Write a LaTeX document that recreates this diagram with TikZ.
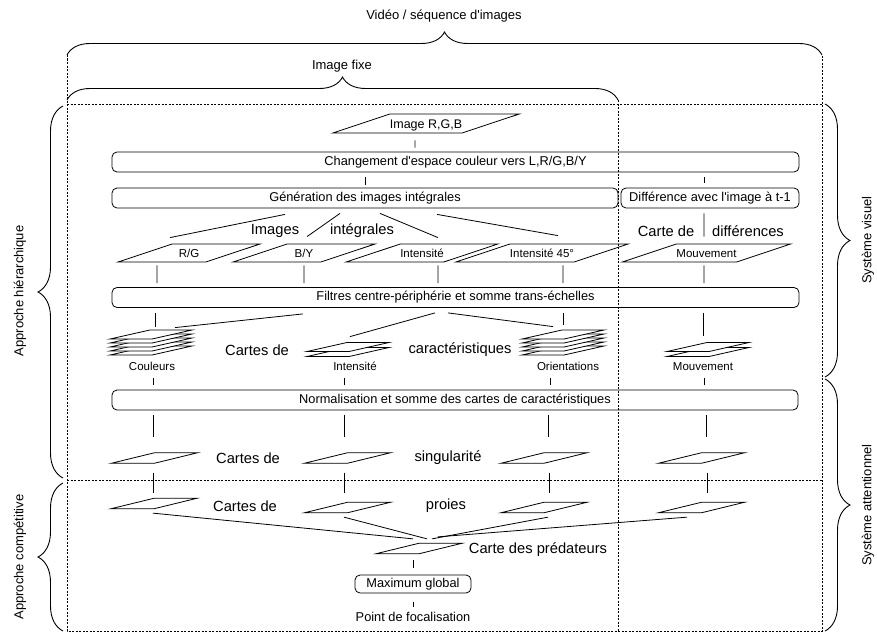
\documentclass[tikz,border=0pt]{standalone}
\usepackage{fontspec}
\setmainfont{Liberation Sans}
\usetikzlibrary{shapes.geometric,decorations.pathreplacing}
\begin{document}
\begin{tikzpicture}[x=1pt,y=-1pt,
boite/.style={draw, line width=0.8pt, rounded corners=5pt, minimum height=20pt, inner sep=0pt, font=\fontsize{12.8}{14}\selectfont},
carte/.style={draw, line width=0.8pt, trapezium, trapezium left angle=18.4, trapezium right angle=161.6, trapezium stretches body, text height=13.5pt, text depth=4.5pt, inner sep=0pt, font=\fontsize{11.5}{13}\selectfont},
vide/.style={draw, line width=0.8pt, trapezium, trapezium left angle=13.7, trapezium right angle=166.3, trapezium stretches body, text height=10.5pt, text depth=0pt, minimum width=83pt, inner sep=0pt},
feuille/.style={draw, line width=0.8pt, fill=white, trapezium, trapezium left angle=12.7, trapezium right angle=167.3, trapezium stretches body, text height=9pt, text depth=0pt, minimum width=82pt, inner sep=0pt},
petit/.style={inner sep=0pt, text height=8pt, text depth=2.5pt, font=\fontsize{11.5}{13}\selectfont},
grand/.style={inner sep=0pt, font=\fontsize{14.7}{16}\selectfont},
cote/.style={inner sep=0pt, font=\fontsize{13}{15}\selectfont},
lien/.style={line width=0.8pt},
pointille/.style={line width=1pt, dash pattern=on 2pt off 1.5pt},
accolade/.style={line width=0.9pt, decorate, decoration={brace, amplitude=#1}}]
\useasboundingbox (0,0) rectangle (877,634);
\draw[pointille] (67,55) -- (67,631) -- (822,631) -- (822,55);
\draw[pointille] (67,104) -- (822,104);
\draw[pointille] (618,100) -- (618,631);
\draw[pointille] (67,480) -- (822,480);
\draw[accolade=23pt] (67,55) -- (822,55);
\draw[accolade=23pt] (67,100) -- (618,100);
\draw[accolade=25pt] (63,478) -- (63,106);
\draw[accolade=25pt] (63,631) -- (63,483);
\draw[accolade=25pt] (825,104) -- (825,377);
\draw[accolade=25pt] (825,379) -- (825,631);
\node[cote] (video) at (444,16) {Vidéo / séquence d\textquotesingle images};
\node[cote] (fixe) at (342,66) {Image fixe};
\node[cote, rotate=90] (hier) at (20,291) {Approche hiérarchique};
\node[cote, rotate=90] (comp) at (20,557) {Approche compétitive};
\node[cote, rotate=90] (visu) at (868,240) {Système visuel};
\node[cote, rotate=90] (atte) at (868,505) {Système attentionnel};
\node[carte, minimum width=153pt, text height=14pt, text depth=5pt, font=\fontsize{12.5}{14}\selectfont] (rgb) at (426,123.5) {Image R,G,B};
\node[boite, minimum width=687pt] (chg) at (455.5,162) {Changement d\textquotesingle espace couleur vers L,R/G,B/Y};
\draw[lien] ([xshift=-11pt,yshift=-7pt]rgb.south) -- ([xshift=-40.5pt,yshift=4pt]chg.north);
\node[boite, minimum width=506pt] (gen) at (365,198) {Génération des images intégrales};
\node[boite, minimum width=178pt] (diff) at (710,198) {Différence avec l\textquotesingle image à t-1};
\draw[lien] ([xshift=-90.5pt,yshift=-5pt]chg.south) -- ([yshift=3pt]gen.north);
\draw[lien] ([xshift=248.5pt,yshift=-5pt]chg.south) -- ([xshift=-6pt,yshift=5pt]diff.north);
\node[grand] (t1) at (275,231) {Images};
\node[grand] (t2) at (362,231) {intégrales};
\node[grand] (t3) at (666,231) {Carte de};
\node[grand] (t4) at (748,231) {différences};
\node[carte, minimum width=142pt] (rg) at (189,253) {R/G};
\node[carte, minimum width=142pt] (by) at (304,253) {B/Y};
\node[carte, minimum width=142pt] (int) at (422,253) {Intensité};
\node[carte, minimum width=150pt] (intq) at (542,253) {Intensité 45°};
\node[carte, minimum width=165pt] (mvt) at (706.5,253) {Mouvement};
\draw[lien] ([xshift=-80pt,yshift=-6pt]gen.south) -- ([xshift=-19pt,yshift=6pt]rg.north);
\draw[lien] ([xshift=-25pt,yshift=-5pt]gen.south) -- ([xshift=3pt,yshift=7pt]by.north);
\draw[lien] ([xshift=15pt,yshift=-5pt]gen.south) -- ([xshift=16pt,yshift=6pt]int.north);
\draw[lien] ([xshift=72pt,yshift=-6pt]gen.south) -- ([xshift=16pt,yshift=8pt]intq.north);
\draw[lien] ([xshift=-6pt,yshift=-5pt]diff.south) -- ([xshift=-2.5pt,yshift=7pt]mvt.north);
\node[boite, minimum width=687pt] (filt) at (455.5,297.5) {Filtres centre-périphérie et somme trans-échelles};
\draw[lien] ([xshift=-32pt,yshift=-3pt]rg.south) -- ([xshift=-298.5pt,yshift=4pt]filt.north);
\draw[lien] ([yshift=-3pt]by.south) -- ([xshift=-151.5pt,yshift=4pt]filt.north);
\draw[lien] ([xshift=16pt,yshift=-3pt]int.south) -- ([xshift=-17.5pt,yshift=4pt]filt.north);
\draw[lien] ([xshift=21pt,yshift=-3pt]intq.south) -- ([xshift=107.5pt,yshift=4pt]filt.north);
\draw[lien] ([xshift=-2.5pt,yshift=-3pt]mvt.south) -- ([xshift=248.5pt,yshift=4pt]filt.north);
\foreach \k in {0,...,4} \node[feuille] (coul\k) at (151,350.5-4*\k) {};
\foreach \k in {0,1} \node[feuille] (inte\k) at (348,352-5*\k) {};
\foreach \k in {0,...,4} \node[feuille] (orie\k) at (563,350.5-4*\k) {};
\foreach \k in {0,1} \node[feuille] (mvts\k) at (708,352-5*\k) {};
\draw[lien] ([xshift=-300.5pt,yshift=-5pt]filt.south) -- ([xshift=4pt,yshift=3pt]coul4.north);
\draw[lien] ([xshift=-152.5pt,yshift=-6pt]filt.south) -- ([xshift=24pt,yshift=2pt]coul4.north);
\draw[lien] ([xshift=-20.5pt,yshift=-5pt]filt.south) -- ([xshift=2pt,yshift=5.5pt]inte1.north);
\draw[lien] ([xshift=-7.5pt,yshift=-5pt]filt.south) -- ([xshift=-10pt,yshift=3pt]orie4.north);
\draw[lien] ([xshift=107.5pt,yshift=-5pt]filt.south) -- ([yshift=5pt]orie4.north);
\draw[lien] ([xshift=247.5pt,yshift=-5pt]filt.south) -- ([xshift=-5pt,yshift=6.5pt]mvts1.north);
\node[grand] (t5) at (257,350) {Cartes de};
\node[grand] (t6) at (460,350) {caractéristiques};
\node[petit] (lcoul) at (152,368) {Couleurs};
\node[petit] (lint) at (355,368) {Intensité};
\node[petit] (lori) at (568,368) {Orientations};
\node[petit] (lmvt) at (703,368) {Mouvement};
\node[boite, minimum width=686pt] (norm) at (455,400) {Normalisation et somme des cartes de caractéristiques};
\draw[lien] ([xshift=1pt,yshift=-5pt]lcoul.south) -- ([xshift=-302pt,yshift=5pt]norm.north);
\draw[lien] ([xshift=-11pt,yshift=-5pt]lint.south) -- ([xshift=-111pt,yshift=5pt]norm.north);
\draw[lien] ([xshift=-18pt,yshift=-5pt]lori.south) -- ([xshift=95pt,yshift=5pt]norm.north);
\draw[lien] ([xshift=1pt,yshift=-5pt]lmvt.south) -- ([xshift=249pt,yshift=5pt]norm.north);
\node[vide] (sa) at (154.5,458) {};
\node[vide] (sb) at (347.5,458) {};
\node[vide] (sc) at (544,458) {};
\node[vide] (sd) at (701.5,458) {};
\draw[lien] ([xshift=-302pt,yshift=-5pt]norm.south) -- ([xshift=-1.5pt,yshift=15pt]sa.north);
\draw[lien] ([xshift=-111pt,yshift=-5pt]norm.south) -- ([xshift=-3.5pt,yshift=15pt]sb.north);
\draw[lien] ([xshift=93pt,yshift=-5pt]norm.south) -- ([xshift=4pt,yshift=15pt]sc.north);
\draw[lien] ([xshift=251pt,yshift=-5pt]norm.south) -- ([xshift=4.5pt,yshift=15pt]sd.north);
\node[grand] (t7) at (248,458) {Cartes de};
\node[grand] (t8) at (448,458) {singularité};
\node[vide] (pa) at (154,503.5) {};
\node[vide] (pb) at (347.5,507.5) {};
\node[vide] (pc) at (544,507.5) {};
\node[vide] (pd) at (701.5,507.5) {};
\draw[lien] ([xshift=-1.5pt,yshift=-9pt]sa.south) -- ([xshift=-1pt,yshift=5pt]pa.north);
\draw[lien] ([xshift=-3.5pt,yshift=-9pt]sb.south) -- ([xshift=-3.5pt,yshift=9pt]pb.north);
\draw[lien] ([xshift=5pt,yshift=-9pt]sc.south) -- ([xshift=5pt,yshift=9pt]pc.north);
\draw[lien] ([xshift=5.5pt,yshift=-9pt]sd.south) -- ([xshift=5.5pt,yshift=9pt]pd.north);
\node[grand] (t9) at (245,506) {Cartes de};
\node[grand] (t10) at (446,506) {proies};
\node[vide] (pred) at (419,548.5) {};
\node[grand] (t11) at (538,550) {Carte des prédateurs};
\draw[lien] ([xshift=-1pt,yshift=-4pt]pa.south) -- ([xshift=-6pt,yshift=4pt]pred.north);
\draw[lien] ([xshift=-3.5pt,yshift=-4pt]pb.south) -- ([xshift=8pt,yshift=4pt]pred.north);
\draw[lien] ([xshift=4pt,yshift=-4pt]pc.south) -- ([xshift=13pt,yshift=4pt]pred.north);
\draw[lien] ([xshift=-14.5pt,yshift=-4pt]pd.south) -- ([xshift=19pt,yshift=6pt]pred.north);
\node[boite, minimum width=116pt, minimum height=18pt] (max) at (413,584) {Maximum global};
\draw[lien] ([xshift=-6pt,yshift=-6pt]pred.south) -- ([yshift=7pt]max.north);
\node[petit, text height=9pt, font=\fontsize{12.8}{14}\selectfont] (pt) at (413,618) {Point de focalisation};
\draw[lien] ([yshift=-9pt]max.south) -- ([yshift=5pt]pt.north);
\end{tikzpicture}
\end{document}
